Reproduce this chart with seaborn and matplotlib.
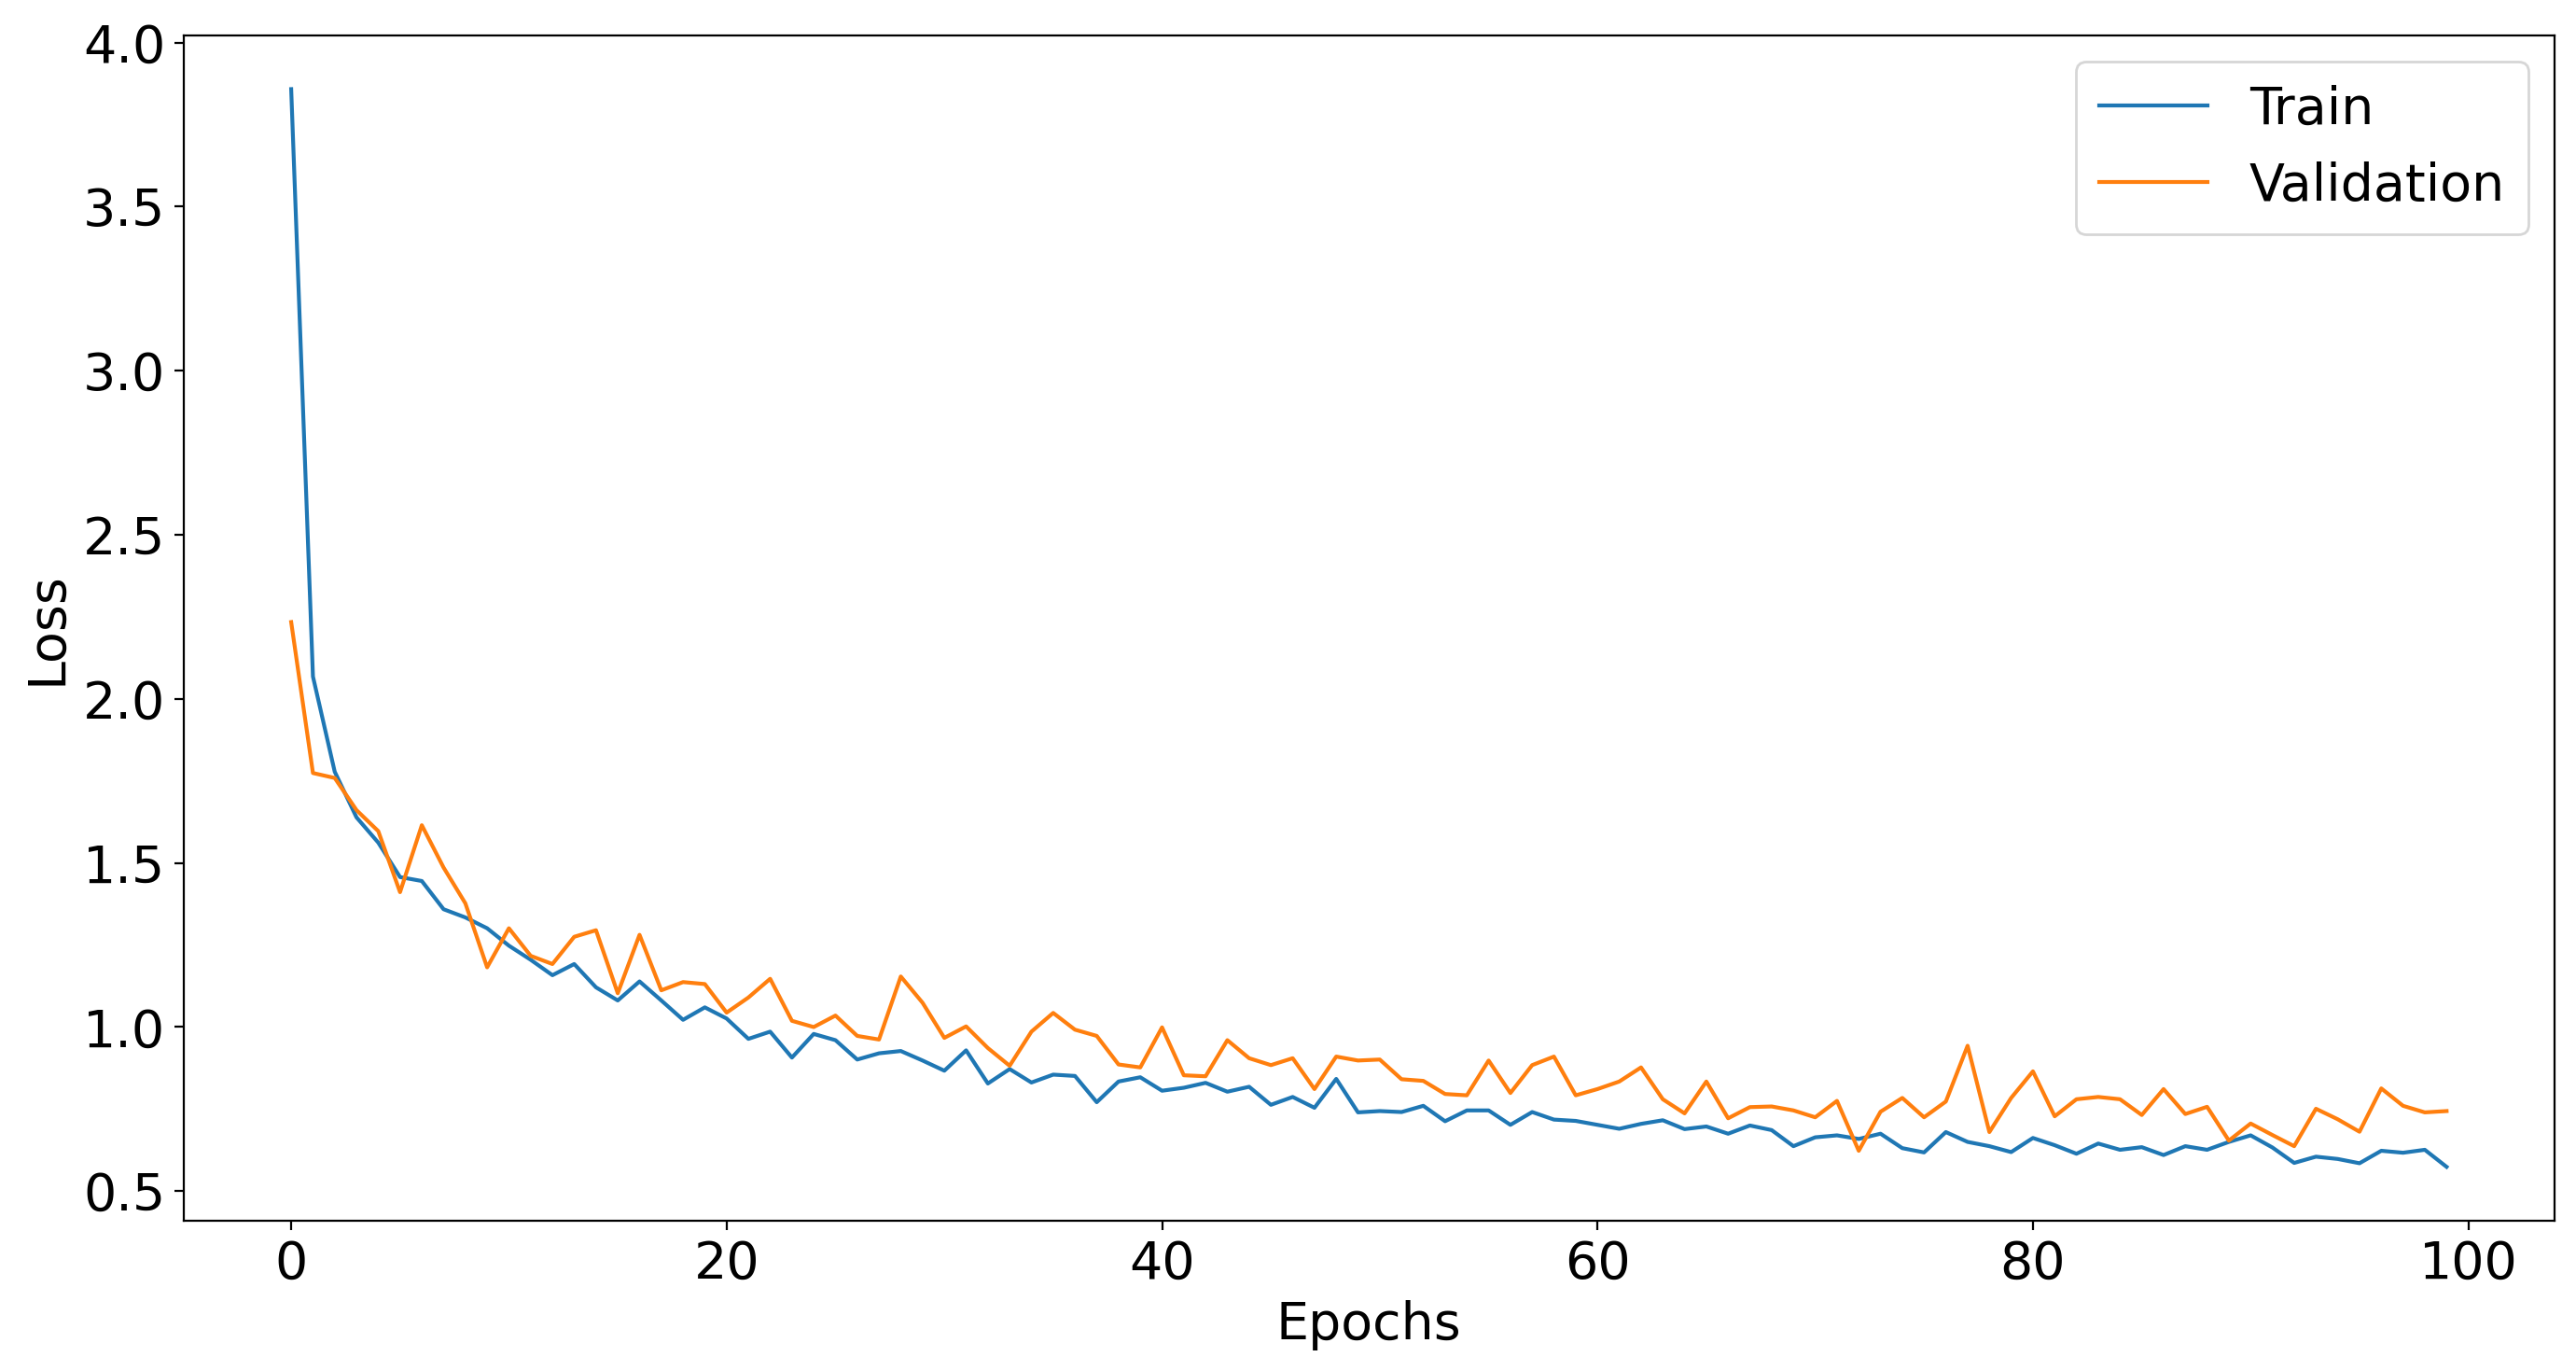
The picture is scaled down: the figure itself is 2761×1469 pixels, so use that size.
import matplotlib
matplotlib.use("Agg")
import matplotlib.pyplot as plt
import numpy as np
import pandas as pd
import seaborn as sns

# loss values, epochs 0..99
train_loss = [
    3.858, 2.068, 1.778, 1.639, 1.562, 1.457, 1.445, 1.359, 1.334, 1.301,
    1.248, 1.205, 1.158, 1.192, 1.121, 1.081, 1.139, 1.081, 1.022, 1.060,
    1.026, 0.964, 0.986, 0.907, 0.979, 0.960, 0.901, 0.920, 0.927, 0.898,
    0.867, 0.929, 0.828, 0.872, 0.831, 0.855, 0.851, 0.771, 0.834, 0.847,
    0.806, 0.815, 0.830, 0.803, 0.818, 0.763, 0.787, 0.754, 0.842, 0.740,
    0.744, 0.741, 0.760, 0.713, 0.746, 0.746, 0.702, 0.741, 0.718, 0.714,
    0.702, 0.690, 0.705, 0.716, 0.689, 0.697, 0.675, 0.700, 0.686, 0.637,
    0.664, 0.670, 0.659, 0.675, 0.631, 0.618, 0.680, 0.650, 0.637, 0.619,
    0.662, 0.640, 0.614, 0.645, 0.626, 0.634, 0.610, 0.637, 0.626, 0.650,
    0.670, 0.633, 0.586, 0.605, 0.598, 0.585, 0.623, 0.617, 0.626, 0.574,
]
val_loss = [
    2.234, 1.774, 1.759, 1.661, 1.597, 1.411, 1.615, 1.486, 1.377, 1.182,
    1.301, 1.217, 1.192, 1.275, 1.295, 1.103, 1.281, 1.112, 1.137, 1.131,
    1.044, 1.090, 1.147, 1.019, 1.000, 1.035, 0.973, 0.962, 1.154, 1.074,
    0.967, 1.002, 0.936, 0.882, 0.986, 1.043, 0.992, 0.973, 0.886, 0.877,
    0.999, 0.853, 0.850, 0.960, 0.905, 0.884, 0.905, 0.811, 0.910, 0.898,
    0.901, 0.841, 0.836, 0.796, 0.792, 0.898, 0.799, 0.884, 0.910, 0.792,
    0.811, 0.834, 0.877, 0.780, 0.737, 0.834, 0.722, 0.756, 0.758, 0.746,
    0.725, 0.775, 0.623, 0.742, 0.784, 0.725, 0.773, 0.943, 0.680, 0.784,
    0.865, 0.728, 0.780, 0.787, 0.780, 0.732, 0.811, 0.735, 0.757, 0.654,
    0.706, 0.671, 0.637, 0.751, 0.719, 0.681, 0.813, 0.760, 0.740, 0.744,
]
epochs = np.arange(len(train_loss))

df = pd.DataFrame({"epoch": epochs, "train": train_loss, "val": val_loss})

plt.rcParams["font.size"] = 20
plt.rcParams["font.family"] = ["DejaVu Sans"]

fig, ax = plt.subplots(figsize=(13.805, 7.345), dpi=200)
fig.subplots_adjust(left=0.0712, right=0.9916, bottom=0.1096, top=0.9743)

sns.lineplot(data=df, x="epoch", y="train", ax=ax, color="#1f77b4", label="Train")
sns.lineplot(data=df, x="epoch", y="val", ax=ax, color="#ff7f0e", label="Validation")

ax.set_xlabel("Epochs")
ax.set_ylabel("Loss")
ax.legend(loc="upper right", handlelength=2.1, borderpad=0.45)

fig.savefig("out.png", dpi=200)
